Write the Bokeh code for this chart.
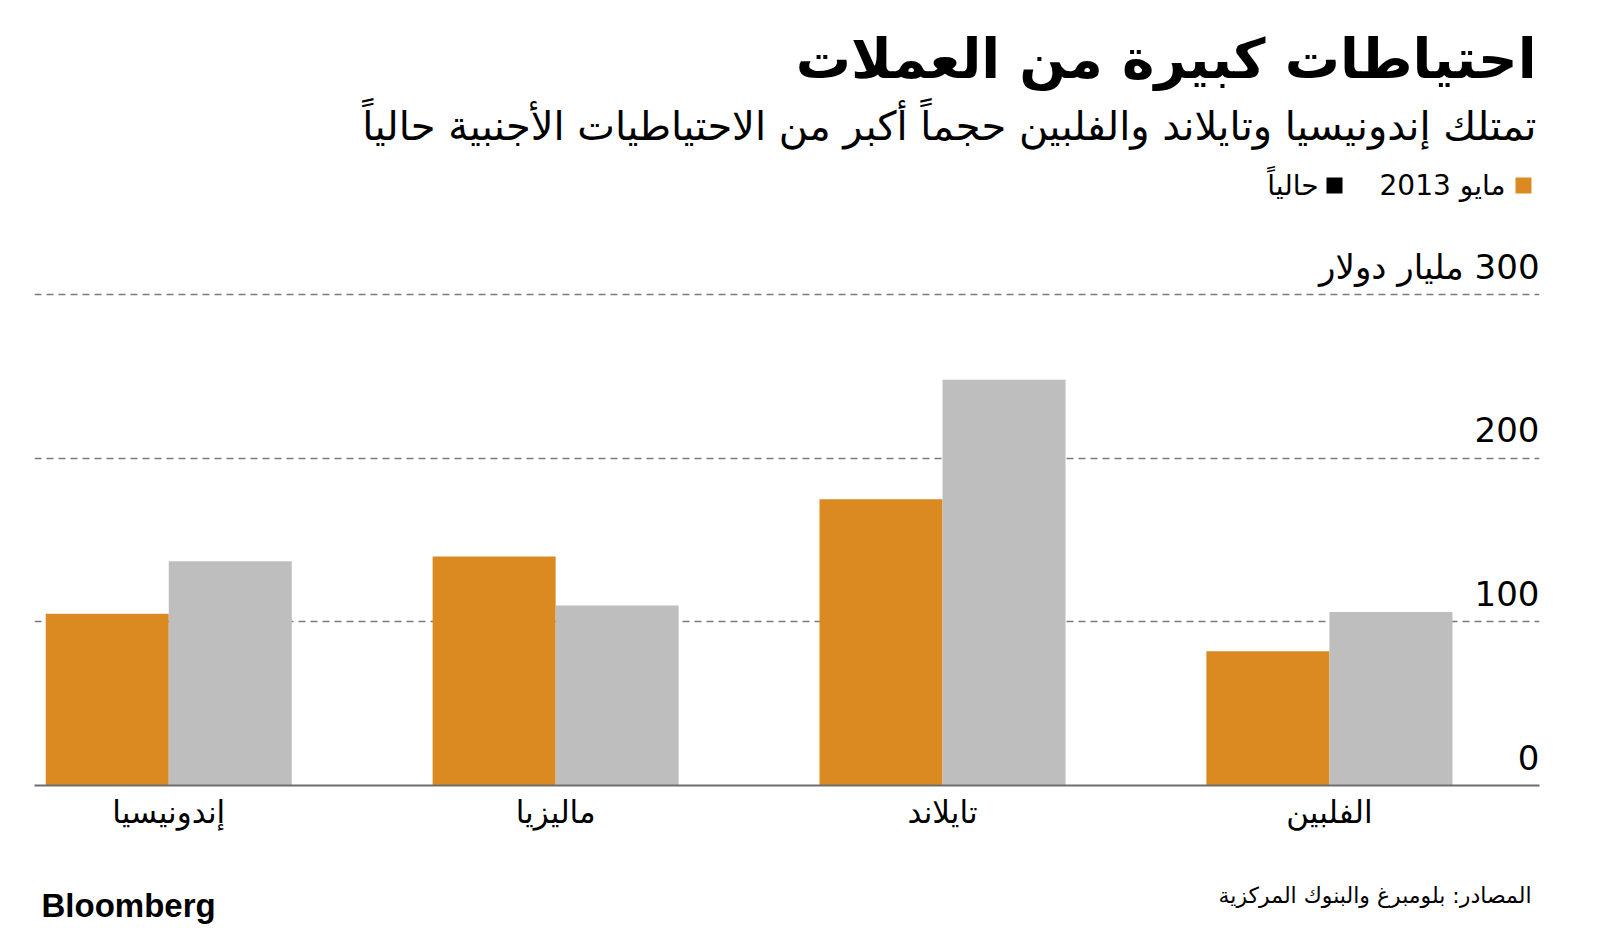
from bokeh.plotting import figure
from bokeh.layouts import column
from bokeh.models import ColumnDataSource, Range1d, FixedTicker
from bokeh.transform import dodge
from bokeh.core.properties import value
from bokeh.embed import file_html
from bokeh.resources import INLINE

# ---------------- data ----------------
categories = ["إندونيسيا", "ماليزيا", "تايلاند", "الفلبين"]
may_2013 = [105, 140, 175, 82]
current = [137, 110, 248, 106]
series_names = ["مايو 2013", "حالياً"]
y_ticks = [0, 100, 200, 300]
y_tick_labels = ["0", "100", "200", "300 مليار دولار"]

title_text = "احتياطات كبيرة من العملات"
subtitle_text = "تمتلك إندونيسيا وتايلاند والفلبين حجماً أكبر من الاحتياطيات الأجنبية حالياً"
source_text = "المصادر: بلومبرغ والبنوك المركزية"
brand_text = "Bloomberg"

# ---------------- styles / layout ----------------
ORANGE = "#DB8A22"
GREY = "#BEBEBE"
BLACK = "#000000"
AR_FONT = "DejaVu Sans"
W = 1584
LEFT, RIGHT = 34, 45
HEAD_H = 215
FRAME_H = 570
MAIN_B = 60
MAIN_H = FRAME_H + MAIN_B
FOOT_H = 79
RLM = "\u200F"


def blank_fig(h):
    f = figure(width=W, height=h, output_backend="svg", toolbar_location=None,
               x_range=Range1d(LEFT, W - RIGHT), y_range=Range1d(h, 0),
               x_axis_location=None, y_axis_location=None,
               min_border=0, min_border_left=LEFT, min_border_right=RIGHT,
               outline_line_color=None)
    f.xgrid.visible = False
    f.ygrid.visible = False
    return f


# ---------------- header ----------------
head = blank_fig(HEAD_H)
head.text(x=[1536], y=[58], text=[title_text], text_align="right", text_baseline="middle",
          text_font=value(AR_FONT), text_font_style="bold", text_font_size="55px",
          text_color=BLACK)
head.text(x=[1536], y=[125], text=[subtitle_text], text_align="right", text_baseline="middle",
          text_font=value(AR_FONT), text_font_size="40px", text_color=BLACK)
# legend (right-to-left)
head.rect(x=[1523, 1334], y=[185, 185], width=16, height=16, width_units="screen",
          height_units="screen", color=[ORANGE, BLACK], line_color=None)
head.text(x=[1505, 1318], y=[185, 185], text=series_names, text_align="right",
          text_baseline="middle", text_font=value(AR_FONT), text_font_size="28px",
          text_color=BLACK)

# ---------------- main chart ----------------
x_idx = list(range(len(categories)))
src = ColumnDataSource(dict(x=x_idx, may=may_2013, cur=current))

y_end = FRAME_H / 1.636
p = figure(width=W, height=MAIN_H, output_backend="svg", toolbar_location=None,
           x_range=Range1d(-0.347, 3.543), y_range=Range1d(0, y_end),
           y_axis_location=None, min_border_left=LEFT, min_border_right=RIGHT,
           min_border_top=0, min_border_bottom=MAIN_B, outline_line_color=None)

p.vbar(x=dodge("x", -0.159, range=p.x_range), top="may", width=0.318, source=src,
       color=ORANGE, line_color=None)
p.vbar(x=dodge("x", 0.159, range=p.x_range), top="cur", width=0.318, source=src,
       color=GREY, line_color=None)

p.xgrid.visible = False
p.ygrid.ticker = FixedTicker(ticks=[t for t in y_ticks if t > 0])
p.ygrid.grid_line_color = "#7a7a7a"
p.ygrid.grid_line_dash = "7 5"
p.ygrid.grid_line_width = 1.4

xa = p.xaxis[0]
xa.ticker = FixedTicker(ticks=x_idx)
xa.major_label_overrides = {i: c for i, c in enumerate(categories)}
xa.major_label_text_font = AR_FONT
xa.major_label_text_font_size = "31px"
xa.major_label_text_color = BLACK
xa.major_label_standoff = 2
xa.major_tick_line_color = None
xa.minor_tick_line_color = None
xa.axis_line_color = "#6e6e6e"
xa.axis_line_width = 2

ylab = ColumnDataSource(dict(x=[p.x_range.end] * len(y_ticks), y=y_ticks,
                             t=[RLM + s for s in y_tick_labels]))
p.text(x="x", y="y", text="t", source=ylab, text_align="right", text_baseline="bottom",
       y_offset=-8, text_font=value(AR_FONT), text_font_size="34px", text_color=BLACK)

# ---------------- footer ----------------
foot = blank_fig(FOOT_H)
foot.text(x=[1531], y=[50], text=[source_text], text_align="right", text_baseline="middle",
          text_font=value(AR_FONT), text_font_size="22px", text_color=BLACK)
foot.text(x=[41], y=[60], text=[brand_text], text_align="left", text_baseline="middle",
          text_font=value("Liberation Sans"), text_font_style="bold", text_font_size="33px",
          text_color=BLACK)

layout = column(head, p, foot, spacing=0)
open("out.html", "w").write(file_html(layout, INLINE))
